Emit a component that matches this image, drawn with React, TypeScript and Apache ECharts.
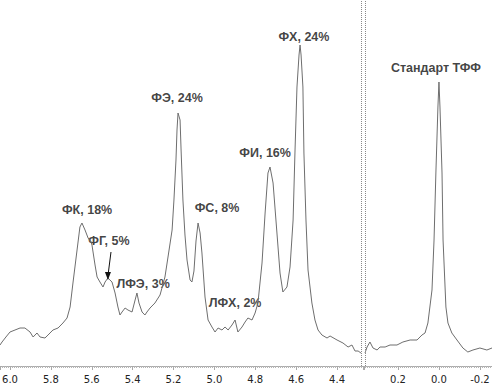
import React, { useEffect, useRef } from "react";
import * as echarts from "echarts";

// Chemical shift (ppm) and signal intensity, left window 6.05–4.27 ppm
const leftShift = [
  6.049, 6.039, 6.02, 6.0, 5.951, 5.927, 5.902, 5.887, 5.868, 5.853, 5.829, 5.814, 5.79, 5.765,
  5.741, 5.721, 5.706, 5.692, 5.672, 5.658, 5.648, 5.633, 5.618, 5.604, 5.599, 5.584, 5.574,
  5.56, 5.545, 5.535, 5.521, 5.501, 5.486, 5.472, 5.462, 5.452, 5.437, 5.423, 5.403, 5.388,
  5.379, 5.369, 5.354, 5.34, 5.33, 5.315, 5.291, 5.266, 5.242, 5.227, 5.207, 5.198, 5.188,
  5.183, 5.178, 5.168, 5.163, 5.154, 5.144, 5.134, 5.119, 5.11, 5.1, 5.09, 5.08, 5.07, 5.061,
  5.046, 5.031, 5.012, 4.997, 4.982, 4.963, 4.948, 4.933, 4.914, 4.899, 4.885, 4.865, 4.85,
  4.836, 4.816, 4.801, 4.787, 4.767, 4.752, 4.738, 4.728, 4.713, 4.694, 4.679, 4.665, 4.645,
  4.63, 4.615, 4.606, 4.596, 4.586, 4.581, 4.576, 4.567, 4.562, 4.552, 4.542, 4.523, 4.508,
  4.493, 4.474, 4.449, 4.434, 4.4, 4.371, 4.346, 4.327, 4.312, 4.297, 4.283,
];
const leftIntensity = [
  21, 24, 29, 34, 38, 38, 34, 29, 33, 29, 28, 31, 36, 38,
  43, 48, 59, 83, 116, 139, 143, 136, 128, 124, 121, 101, 89,
  84, 79, 84, 88, 84, 73, 59, 51, 54, 58, 56, 54, 66,
  73, 63, 54, 51, 54, 58, 63, 71, 89, 109, 136, 166, 206,
  236, 253, 246, 216, 166, 131, 106, 86, 84, 95, 125, 143, 133, 113,
  69, 46, 39, 34, 38, 36, 39, 36, 41, 46, 34, 39, 44,
  48, 46, 53, 63, 103, 153, 193, 199, 183, 133, 93, 74, 79,
  99, 146, 213, 279, 311, 321, 311, 279, 213, 146, 96, 63, 46,
  36, 31, 28, 30, 26, 23, 19, 21, 15, 15, 13,
];

// Right window 0.37 – -0.26 ppm (standard)
const rightShift = [
  0.361, 0.351, 0.337, 0.322, 0.302, 0.288, 0.263, 0.239, 0.205, 0.176, 0.141, 0.107, 0.083,
  0.068, 0.054, 0.034, 0.024, 0.015, 0.005, 0.0, -0.005, -0.015, -0.02, -0.034, -0.044,
  -0.063, -0.088, -0.117, -0.141, -0.166, -0.2, -0.234, -0.259,
];
const rightIntensity = [
  13, 19, 24, 18, 16, 19, 19, 21, 21, 24, 26, 26, 31,
  33, 43, 76, 126, 193, 259, 284, 259, 193, 126, 59, 43,
  33, 26, 18, 14, 16, 18, 16, 18,
];

// Peak annotations
const labelTexts = ["ФК, 18%", "ФГ, 5%", "ЛФЭ, 3%", "ФЭ, 24%", "ФС, 8%", "ЛФХ, 2%", "ФИ, 16%", "ФХ, 24%"];
const labelShift = [5.623, 5.516, 5.349, 5.183, 4.987, 4.899, 4.752, 4.562];
const labelHeight = [156, 125, 82, 268, 158, 63, 213, 329];
const standardText = "Стандарт ТФФ";
const standardShift = 0.015;
const standardHeight = 298;

// Arrow pointing to ФГ peak: [shift, intensity] start and end
const arrowFrom = [5.506, 114];
const arrowTo = [5.521, 90];

// Axis windows and break positions
const leftRange = [4.273, 6.049];
const rightRange = [-0.259, 0.366];
const breakLeft = 4.283;
const breakRight = 0.357;
const intensityMax = 366;

const tickFormatter = (v: number) =>
  Math.abs(v * 5 - Math.round(v * 5)) < 1e-6 ? (Math.abs(v) < 1e-9 ? 0 : v).toFixed(1) : "";

function xAxisCfg(gridIndex: number, range: number[]) {
  return {
    type: "value",
    gridIndex,
    min: range[0],
    max: range[1],
    inverse: true,
    minInterval: 0.2,
    maxInterval: 0.2,
    axisLine: { show: true, onZero: false, lineStyle: { color: "#aaaaaa", width: 1 } },
    axisTick: { show: true, length: 4, lineStyle: { color: "#aaaaaa" } },
    minorTick: { show: true, splitNumber: 20, length: 2, lineStyle: { color: "#b5b5b5" } },
    splitLine: { show: false },
    axisLabel: {
      formatter: tickFormatter,
      color: "#222222",
      fontSize: 10,
      fontFamily: "DejaVu Sans",
      margin: 8,
      showMinLabel: true,
      showMaxLabel: true,
    },
  };
}

const labelStyle = {
  show: true,
  position: "inside",
  color: "#111111",
  fontSize: 12.5,
  fontWeight: "bold",
  fontFamily: "Liberation Sans",
};

export default function App() {
  const ref = useRef<HTMLDivElement>(null);
  useEffect(() => {
    if (!ref.current) return;
    const chart = echarts.init(ref.current, null, { renderer: "svg" });
    const breakLine = {
      silent: true,
      symbol: "none",
      label: { show: false },
      lineStyle: { type: "dotted", color: "#888888", width: 1 },
    };
    chart.setOption({
      animation: false,
      backgroundColor: "#ffffff",
      grid: [
        { left: 0, top: 0, width: 363, bottom: 20, containLabel: false, outerBoundsMode: "none" },
        { left: 364, top: 0, right: 0, bottom: 20, containLabel: false, outerBoundsMode: "none" },
      ],
      xAxis: [xAxisCfg(0, leftRange), xAxisCfg(1, rightRange)],
      yAxis: [
        { type: "value", gridIndex: 0, min: 0, max: intensityMax, show: false },
        { type: "value", gridIndex: 1, min: 0, max: intensityMax, show: false },
      ],
      series: [
        {
          type: "line",
          xAxisIndex: 0,
          yAxisIndex: 0,
          data: leftShift.map((s, i) => [s, leftIntensity[i]]),
          showSymbol: false,
          lineStyle: { color: "#6e6e6e", width: 1 },
          markLine: { ...breakLine, data: [{ xAxis: breakLeft }] },
        },
        {
          type: "line",
          xAxisIndex: 1,
          yAxisIndex: 1,
          data: rightShift.map((s, i) => [s, rightIntensity[i]]),
          showSymbol: false,
          lineStyle: { color: "#6e6e6e", width: 1 },
          markLine: { ...breakLine, data: [{ xAxis: breakRight }] },
        },
        {
          type: "scatter",
          xAxisIndex: 0,
          yAxisIndex: 0,
          symbolSize: 0,
          clip: false,
          silent: true,
          data: labelTexts.map((t, i) => ({ name: t, value: [labelShift[i], labelHeight[i]] })),
          label: { ...labelStyle, formatter: (p: any) => p.name },
          markLine: {
            silent: true,
            label: { show: false },
            lineStyle: { type: "solid", color: "#111111", width: 1 },
            data: [
              [
                { coord: arrowFrom, symbol: "none" },
                { coord: arrowTo, symbol: "triangle", symbolSize: [6, 8], symbolRotate: 180 },
              ],
            ],
          },
        },
        {
          type: "scatter",
          xAxisIndex: 1,
          yAxisIndex: 1,
          symbolSize: 0,
          clip: false,
          silent: true,
          data: [{ name: standardText, value: [standardShift, standardHeight] }],
          label: { ...labelStyle, formatter: (p: any) => p.name },
        },
      ],
    });
    return () => chart.dispose();
  }, []);
  return (
    <div
      ref={ref}
      style={{ position: "absolute", left: 0, top: 0, width: 492, height: 386 }}
    />
  );
}
